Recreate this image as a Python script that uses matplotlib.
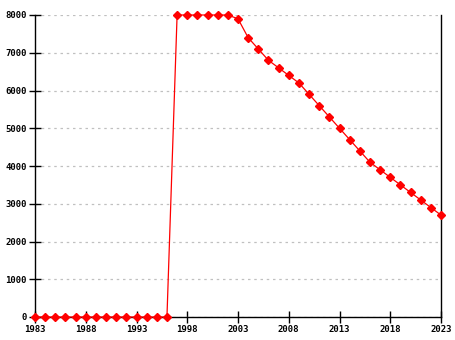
import matplotlib.pyplot as plt
import numpy as np

years = list(range(1983, 2024))
values = [0] * 14 + [8000] * 6 + [
    7900, 7400, 7100, 6800, 6600, 6400, 6200, 5900, 5600, 5300, 5000,
    4700, 4400, 4100, 3900, 3700, 3500, 3300, 3100, 2900, 2700,
]
xticks = [1983, 1988, 1993, 1998, 2003, 2008, 2013, 2018, 2023]
yticks = [0, 1000, 2000, 3000, 4000, 5000, 6000, 7000, 8000]

plt.rcParams["font.family"] = "DejaVu Sans Mono"

fig = plt.figure(figsize=(4.55, 3.40), dpi=100)
ax = fig.add_axes([35 / 455, 23 / 340, 406 / 455, 302 / 340])

ax.plot(years, values, "-", color="red", linewidth=0.9,
        marker="D", markersize=4.5, markerfacecolor="red",
        markeredgecolor="red", clip_on=False, zorder=3)

ax.set_xlim(1983, 2023)
ax.set_ylim(0, 8000)
ax.set_xticks(xticks)
ax.set_yticks(yticks)
ax.tick_params(direction="inout", length=8, width=1, labelsize=6.5, pad=2)
for lab in ax.get_xticklabels() + ax.get_yticklabels():
    lab.set_fontweight("bold")

ax.grid(True, axis="y", linestyle=(0, (2, 3)), color="#c0c0c0", linewidth=0.9)
ax.set_axisbelow(True)
ax.spines["top"].set_visible(False)
for s in ("left", "right", "bottom"):
    ax.spines[s].set_linewidth(1)

fig.savefig("out.png", dpi=100)
